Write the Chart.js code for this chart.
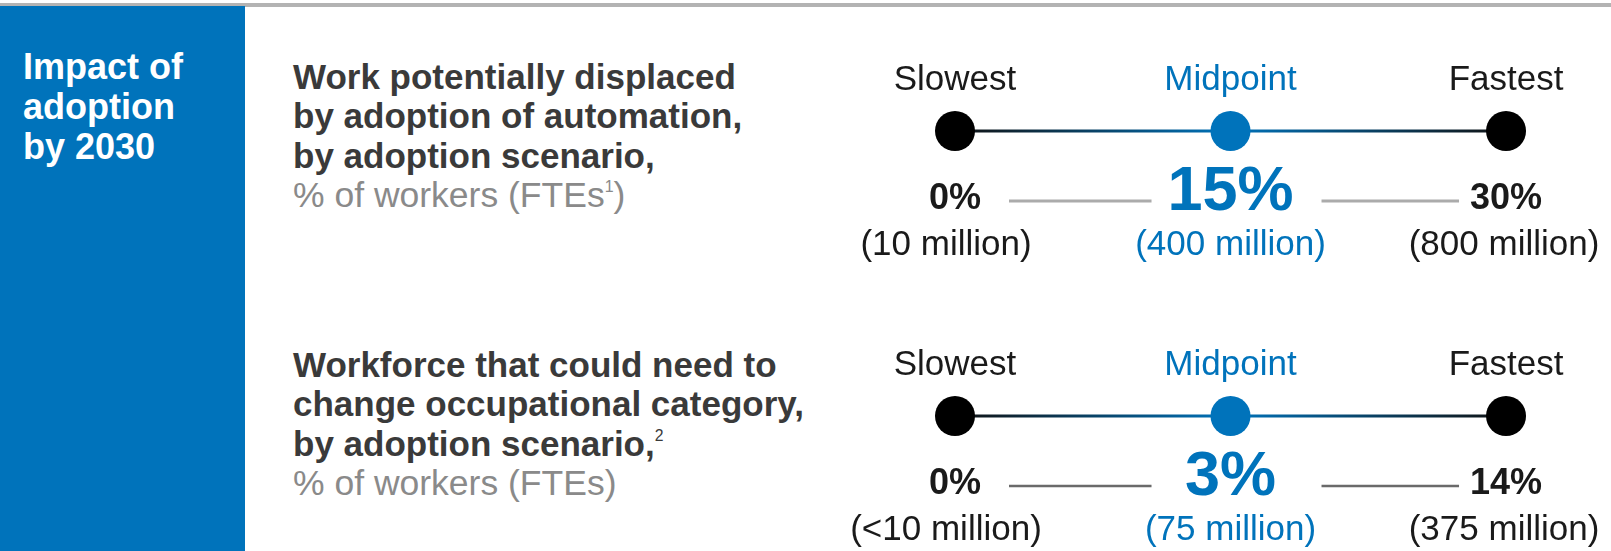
<!DOCTYPE html>
<html>
<head>
<meta charset="utf-8">
<script src="https://cdn.jsdelivr.net/npm/chart.js@4"></script>
<style>
    html, body { margin: 0; padding: 0; background: #fff; }
    body { width: 1611px; height: 551px; position: relative; overflow: hidden; font-family: "Liberation Sans", Arial, Helvetica, sans-serif; }
    #topRule { position: absolute; left: 0; top: 3px; width: 1611px; height: 4px; background: #b3b3b3; }
    #sidePanel { position: absolute; left: 0; top: 6px; width: 245px; height: 545px; background: #0073bb; }
    #sideTitle { position: absolute; left: 23px; top: 47px; color: #fff; font-weight: bold; font-size: 36px; line-height: 40px; }
    .rowTitle { position: absolute; left: 293px; color: #3a3a3a; font-weight: bold; font-size: 35px; line-height: 39.3px; white-space: nowrap; }
    .rowTitle .unit { color: #8a8a8a; font-weight: normal; font-size: 35.5px; }
    .rowTitle sup { font-size: 0.45em; vertical-align: 0.95em; line-height: 0; font-weight: normal; }
    #chartBox { position: absolute; left: 800px; top: 0; width: 811px; height: 551px; }
</style>
</head>
<body>
<div id="topRule"></div>
<div id="sidePanel"></div>
<div id="sideTitle">Impact of<br>adoption<br>by 2030</div>
<div class="rowTitle" style="top:57px">Work potentially displaced<br>by adoption of automation,<br>by adoption scenario,<br><span class="unit">% of workers (FTEs<sup>1</sup>)</span></div>
<div class="rowTitle" style="top:345px">Workforce that could need to<br>change occupational category,<br>by adoption scenario,<sup>2</sup><br><span class="unit">% of workers (FTEs)</span></div>
<div id="chartBox"><canvas id="scenarioChart" width="811" height="551"></canvas></div>
<script>
// Scenarios (x positions) and the two measures (rows)
const scenarios = ['Slowest', 'Midpoint', 'Fastest'];
const displacedShare = [0, 15, 30];
const displacedWorkers = ['(10 million)', '(400 million)', '(800 million)'];
const changeShare = [0, 3, 14];
const changeWorkers = ['(<10 million)', '(75 million)', '(375 million)'];

const blue = '#0073bb';
const fontFamily = '"Liberation Sans", Arial, Helvetica, sans-serif';

// Points: x = scenario index, y = row index
const rowPoints = (row) => scenarios.map((s, i) => ({ x: i, y: row }));

// Line between dots: black at the ends, blue in the middle
const lineGradient = (context) => {
    const chart = context.chart;
    const xs = chart.scales.x;
    if (!xs) return '#111';
    const x0 = xs.getPixelForValue(0);
    const x1 = xs.getPixelForValue(scenarios.length - 1);
    if (!isFinite(x0) || !isFinite(x1)) return '#111';
    const g = chart.ctx.createLinearGradient(x0, 0, x1, 0);
    g.addColorStop(0, '#111');
    g.addColorStop(0.5, blue);
    g.addColorStop(1, '#111');
    return g;
}

const rows = [
    { share: displacedShare, workers: displacedWorkers, connector: '#ababab', connectorWidth: 3 },
    { share: changeShare, workers: changeWorkers, connector: '#6a6a6a', connectorWidth: 2.5 }
];

// small horizontal nudge of the worker counts under each dot
const workersShift = [-9, 0, -2];

// Plugin drawing the scenario names, percentages and worker counts
const scenarioLabels = {
    id: 'scenarioLabels',
    afterDatasetsDraw(chart) {
        const ctx = chart.ctx;
        ctx.save();
        ctx.textAlign = 'center';
        ctx.textBaseline = 'middle';

        chart.data.datasets.forEach((ds, r) => {
            const meta = chart.getDatasetMeta(r);
            const row = rows[r];
            const pts = meta.data;

            // thin connectors between the percentages
            const ly = pts[0].y + 70;
            ctx.strokeStyle = row.connector;
            ctx.lineWidth = row.connectorWidth;
            ctx.beginPath();
            ctx.moveTo(pts[0].x + 54, ly);
            ctx.lineTo(pts[1].x - 79, ly);
            ctx.moveTo(pts[1].x + 91, ly);
            ctx.lineTo(pts[2].x - 47, ly);
            ctx.stroke();

            pts.forEach((p, i) => {
                const isMid = i === 1;
                const color = isMid ? blue : '#1a1a1a';

                ctx.fillStyle = color;
                ctx.font = '35px ' + fontFamily;
                ctx.fillText(scenarios[i], p.x, p.y - 51);

                if (isMid) {
                    ctx.font = 'bold 63px ' + fontFamily;
                    ctx.fillText(row.share[i] + '%', p.x, p.y + 62);
                } else {
                    ctx.font = 'bold 36px ' + fontFamily;
                    ctx.fillText(row.share[i] + '%', p.x, p.y + 68);
                }

                ctx.font = '35px ' + fontFamily;
                ctx.fillText(row.workers[i], p.x + workersShift[i], p.y + 114);
            });
        });
        ctx.restore();
    }
};

const ctx = document.getElementById('scenarioChart').getContext('2d');

const scenarioChart = new Chart(ctx, {
    type: 'line',
    data: {
        datasets: rows.map((row, r) => ({
            label: r === 0 ? 'Work potentially displaced' : 'Workforce changing category',
            data: rowPoints(r),
            borderColor: lineGradient,
            borderWidth: 3,
            pointRadius: 20,
            pointHoverRadius: 20,
            pointBorderWidth: 0,
            pointBackgroundColor: scenarios.map((s, i) => i === 1 ? blue : '#000'),
            fill: false,
            tension: 0
        }))
    },
    options: {
        responsive: false,
        animation: false,
        layout: { padding: 0, autoPadding: false },
        plugins: {
            legend: { display: false },
            tooltip: { enabled: false },
            title: { display: false }
        },
        scales: {
            x: { type: 'linear', min: -0.5626, max: 2.381, display: false },
            y: { type: 'linear', min: -0.4596, max: 1.4737, reverse: true, display: false }
        }
    },
    plugins: [scenarioLabels]
});
</script>
</body>
</html>
